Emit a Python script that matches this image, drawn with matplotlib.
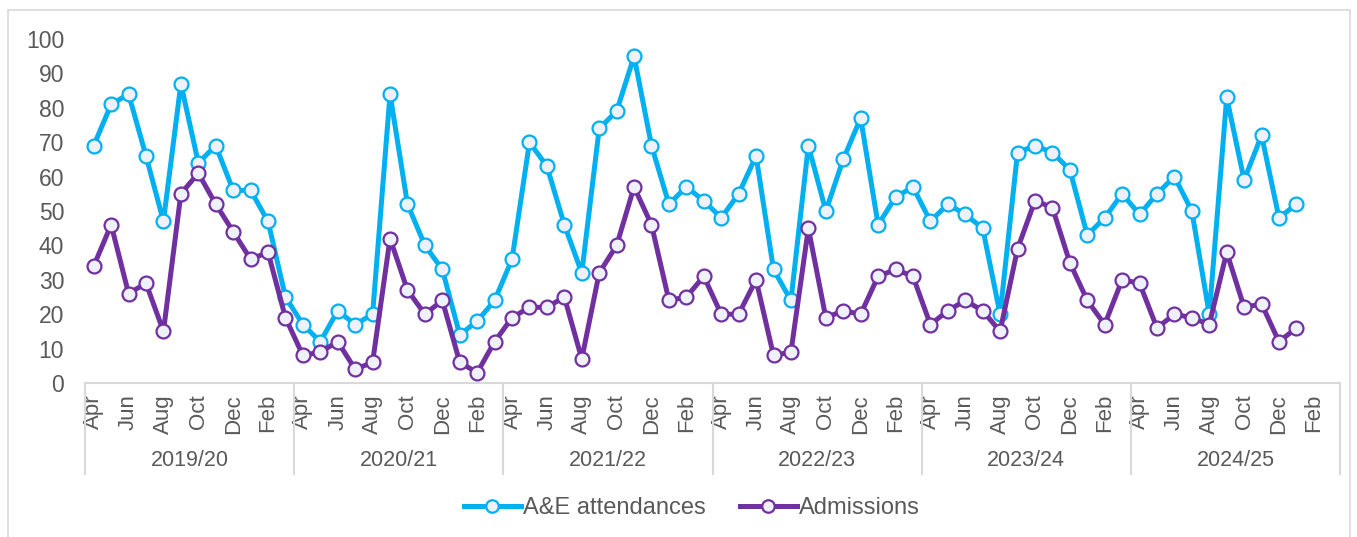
import numpy as np
import matplotlib.pyplot as plt
from matplotlib.patches import Rectangle
from matplotlib.lines import Line2D

plt.rcParams['font.family'] = ['Liberation Sans', 'DejaVu Sans']

# =====================================================
# DADOS
# =====================================================
anos = ["2019/20", "2020/21", "2021/22", "2022/23", "2023/24", "2024/25"]
meses = ["Apr", "May", "Jun", "Jul", "Aug", "Sep", "Oct", "Nov", "Dec", "Jan", "Feb", "Mar"]

ae_attendances = [
    69, 81, 84, 66, 47, 87, 64, 69, 56, 56, 47, 25,   # 2019/20
    17, 12, 21, 17, 20, 84, 52, 40, 33, 14, 18, 24,   # 2020/21
    36, 70, 63, 46, 32, 74, 79, 95, 69, 52, 57, 53,   # 2021/22
    48, 55, 66, 33, 24, 69, 50, 65, 77, 46, 54, 57,   # 2022/23
    47, 52, 49, 45, 20, 67, 69, 67, 62, 43, 48, 55,   # 2023/24
    49, 55, 60, 50, 20, 83, 59, 72, 48, 52,           # 2024/25
]
admissions = [
    34, 46, 26, 29, 15, 55, 61, 52, 44, 36, 38, 19,
    8, 9, 12, 4, 6, 42, 27, 20, 24, 6, 3, 12,
    19, 22, 22, 25, 7, 32, 40, 57, 46, 24, 25, 31,
    20, 20, 30, 8, 9, 45, 19, 21, 20, 31, 33, 31,
    17, 21, 24, 21, 15, 39, 53, 51, 35, 24, 17, 30,
    29, 16, 20, 19, 17, 38, 22, 23, 12, 16,
]

COR_AE = "#00B0F0"
COR_ADM = "#7030A0"
COR_TEXTO = "#595959"
COR_EIXO = "#D9D9D9"

# =====================================================
# FIGURA
# =====================================================
fig = plt.figure(figsize=(13.57, 5.37), dpi=100)
fig.patches.append(Rectangle((8 / 1357, -0.01), 1342 / 1357, 1 - 10 / 537 + 0.01,
                             transform=fig.transFigure, fill=False,
                             edgecolor=COR_EIXO, linewidth=1.2))

ax = fig.add_axes([85 / 1357, 1 - 383 / 537, 1255 / 1357, 344 / 537])

x = np.arange(len(ae_attendances))
estilo = dict(linewidth=3.6, marker="o", markersize=10, markerfacecolor="#EEF0FA",
              markeredgewidth=1.6, clip_on=False)
ax.plot(x, ae_attendances, color=COR_AE, markeredgecolor=COR_AE, label="A&E attendances", **estilo)
ax.plot(x, admissions, color=COR_ADM, markeredgecolor=COR_ADM, label="Admissions", **estilo)

n_total = 12 * len(anos)
ax.set_xlim(-0.5, n_total - 0.5)
ax.set_ylim(0, 100)
ax.set_yticks(np.arange(0, 101, 10))

for lado in ["top", "right", "left"]:
    ax.spines[lado].set_visible(False)
ax.spines["bottom"].set_color(COR_EIXO)
ax.spines["bottom"].set_linewidth(1.5)

ax.tick_params(axis="y", length=0, labelsize=16.5, labelcolor=COR_TEXTO, pad=15)

# rótulos dos meses (um sim, um não)
pos_meses = np.arange(0, n_total, 2)
ax.set_xticks(pos_meses)
ax.set_xticklabels([meses[i % 12] for i in pos_meses], rotation=90)
ax.tick_params(axis="x", length=0, labelsize=16, labelcolor=COR_TEXTO, pad=8)

# separadores e rótulos dos anos
trans = ax.get_xaxis_transform()
for k in range(len(anos) + 1):
    ax.plot([12 * k - 0.5, 12 * k - 0.5], [0, -0.265], color=COR_EIXO,
            linewidth=1.5, transform=trans, clip_on=False)
for k, ano in enumerate(anos):
    ax.text(12 * k + 5.5, -0.225, ano, transform=trans, ha="center", va="center",
            fontsize=15.5, color=COR_TEXTO)

# legenda
handles = [
    Line2D([], [], color=COR_AE, linewidth=3.6, marker="o", markersize=9,
           markerfacecolor="#EEF0FA", markeredgecolor=COR_AE, markeredgewidth=1.6),
    Line2D([], [], color=COR_ADM, linewidth=3.6, marker="o", markersize=9,
           markerfacecolor="#EEF0FA", markeredgecolor=COR_ADM, markeredgewidth=1.6),
]
fig.legend(handles, ["A&E attendances", "Admissions"], loc="center",
           bbox_to_anchor=(692 / 1357, 1 - 508 / 537), ncol=2, frameon=False,
           fontsize=17, labelcolor=COR_TEXTO, handlelength=2.4, handletextpad=0.1,
           columnspacing=1.45)

plt.savefig("out.png", dpi=100)
plt.close()
